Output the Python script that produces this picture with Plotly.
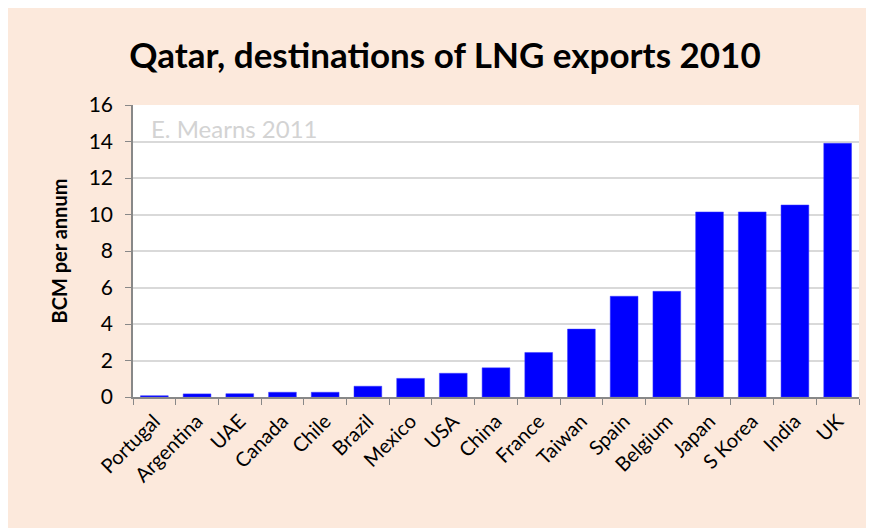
import plotly.graph_objects as go

countries = ["Portugal", "Argentina", "UAE", "Canada", "Chile", "Brazil", "Mexico", "USA",
             "China", "France", "Taiwan", "Spain", "Belgium", "Japan", "S Korea", "India", "UK"]
bcm = [0.07, 0.17, 0.18, 0.26, 0.26, 0.59, 1.02, 1.3,
       1.6, 2.44, 3.72, 5.52, 5.79, 10.14, 10.14, 10.52, 13.9]

fnt = "Lato, 'Open Sans', sans-serif"

fig = go.Figure(go.Bar(
    x=countries, y=bcm,
    marker=dict(color="#0000FF", line=dict(color="#3a3aff", width=0.5)),
))

fig.update_layout(
    width=874, height=528,
    margin=dict(l=125, r=23, t=97, b=139),
    paper_bgcolor="#FCE9DC",
    plot_bgcolor="white",
    bargap=0.35,
    showlegend=False,
    font=dict(family=fnt, color="black", size=19),
    title=dict(text="<b>Qatar, destinations of LNG exports 2010</b>",
               x=0.5, xanchor="center", y=0.91, yanchor="middle",
               font=dict(size=35, family=fnt, color="black")),
    annotations=[dict(text="E. Mearns 2011", xref="paper", yref="paper",
                      x=0.022, y=0.921, xanchor="left", yanchor="middle", showarrow=False,
                      font=dict(size=24, color="#d3d3d3", family=fnt))],
)

fig.update_xaxes(
    type="category", tickangle=-45, tickson="boundaries",
    ticks="outside", ticklen=6, tickcolor="#888888",
    showline=True, linecolor="#888888", linewidth=1.5,
    showgrid=False, tickfont=dict(size=20), ticklabelstandoff=3,
)
fig.update_yaxes(
    range=[0, 16], dtick=2, ticks="outside", ticklen=6, tickcolor="#888888",
    showline=True, linecolor="#888888", linewidth=1.5,
    showgrid=True, gridcolor="#d9d9d9", gridwidth=1.5, zeroline=False,
    tickfont=dict(size=21), ticklabelstandoff=8,
    title=dict(text="<b>BCM per annum</b>", font=dict(size=20), standoff=16),
)

fig.write_html("out.html")
